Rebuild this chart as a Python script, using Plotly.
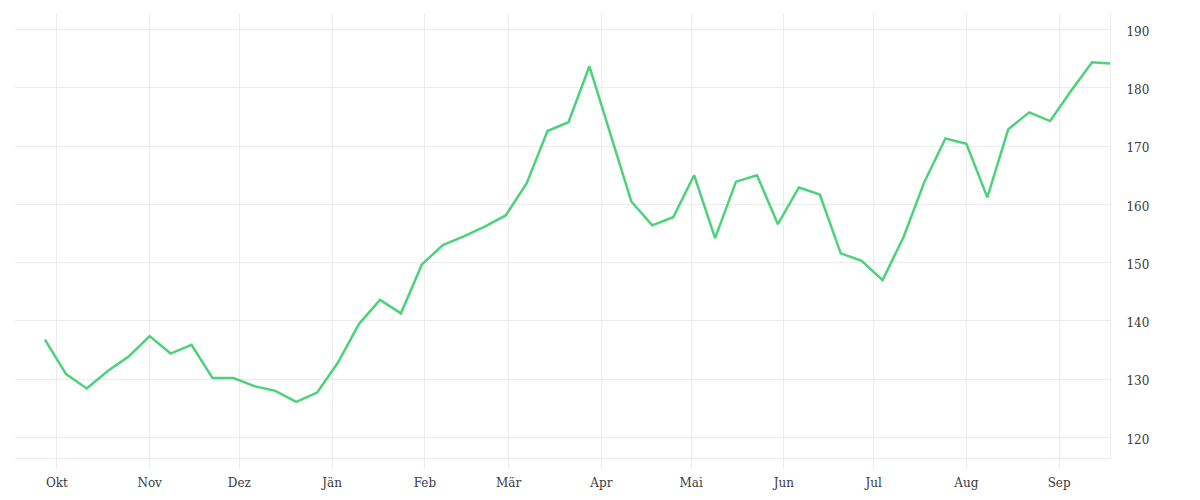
import plotly.graph_objects as go

dates = [
    "2020-09-27", "2020-10-04", "2020-10-11", "2020-10-18", "2020-10-25",
    "2020-11-01", "2020-11-08", "2020-11-15", "2020-11-22", "2020-11-29",
    "2020-12-06", "2020-12-13", "2020-12-20", "2020-12-27", "2021-01-03",
    "2021-01-10", "2021-01-17", "2021-01-24", "2021-01-31", "2021-02-07",
    "2021-02-14", "2021-02-21", "2021-02-28", "2021-03-07", "2021-03-14",
    "2021-03-21", "2021-03-28", "2021-04-04", "2021-04-11", "2021-04-18",
    "2021-04-25", "2021-05-02", "2021-05-09", "2021-05-16", "2021-05-23",
    "2021-05-30", "2021-06-06", "2021-06-13", "2021-06-20", "2021-06-27",
    "2021-07-04", "2021-07-11", "2021-07-18", "2021-07-25", "2021-08-01",
    "2021-08-08", "2021-08-15", "2021-08-22", "2021-08-29", "2021-09-05",
    "2021-09-12", "2021-09-18",
]
values = [
    136.8, 130.9, 128.4, 131.4, 133.9,
    137.4, 134.4, 135.9, 130.2, 130.2,
    128.8, 128.0, 126.1, 127.7, 132.9,
    139.5, 143.6, 141.3, 149.7, 153.0,
    154.5, 156.2, 158.1, 163.6, 172.6,
    174.1, 183.7, 172.0, 160.5, 156.4,
    157.8, 165.0, 154.2, 163.9, 165.0,
    156.6, 162.9, 161.7, 151.6, 150.3,
    147.0, 154.4, 163.9, 171.3, 170.4,
    161.2, 172.9, 175.8, 174.3, 179.5,
    184.4, 184.2,
]
month_ticks = [
    "2020-10-01", "2020-11-01", "2020-12-01", "2021-01-01", "2021-02-01",
    "2021-03-01", "2021-04-01", "2021-05-01", "2021-06-01", "2021-07-01",
    "2021-08-01", "2021-09-01",
]
month_labels = ["Okt", "Nov", "Dez", "Jän", "Feb", "Mär", "Apr", "Mai",
                "Jun", "Jul", "Aug", "Sep"]
y_ticks = [120, 130, 140, 150, 160, 170, 180, 190]

GRID = "#ececec"
TEXT = "#3a3a3a"

fig = go.Figure(
    go.Scatter(
        x=dates, y=values, mode="lines",
        line=dict(color="#4cd27a", width=2.5),
        hoverinfo="x+y",
    )
)

fig.update_layout(
    width=1200, height=500,
    margin=dict(l=7, r=98, t=5, b=50),
    paper_bgcolor="white", plot_bgcolor="white",
    font=dict(family="DejaVu Serif", size=12, color=TEXT),
    showlegend=False,
    xaxis=dict(
        type="date",
        range=["2020-09-17", "2021-09-18"],
        tickmode="array", tickvals=month_ticks, ticktext=month_labels,
        showgrid=True, gridcolor=GRID, gridwidth=1,
        showline=True, linecolor=GRID, linewidth=1,
        ticks="outside", ticklen=10, tickcolor=GRID, tickwidth=1,
        ticklabelstandoff=4,
        zeroline=False,
    ),
    yaxis=dict(
        side="right",
        range=[116.47, 192.85],
        tickmode="array", tickvals=y_ticks,
        showgrid=True, gridcolor=GRID, gridwidth=1,
        showline=True, linecolor=GRID, linewidth=1,
        ticks="outside", ticklen=13, tickcolor="rgba(0,0,0,0)",
        ticklabelshift=2,
        zeroline=False,
    ),
)

fig.write_html("out.html")
